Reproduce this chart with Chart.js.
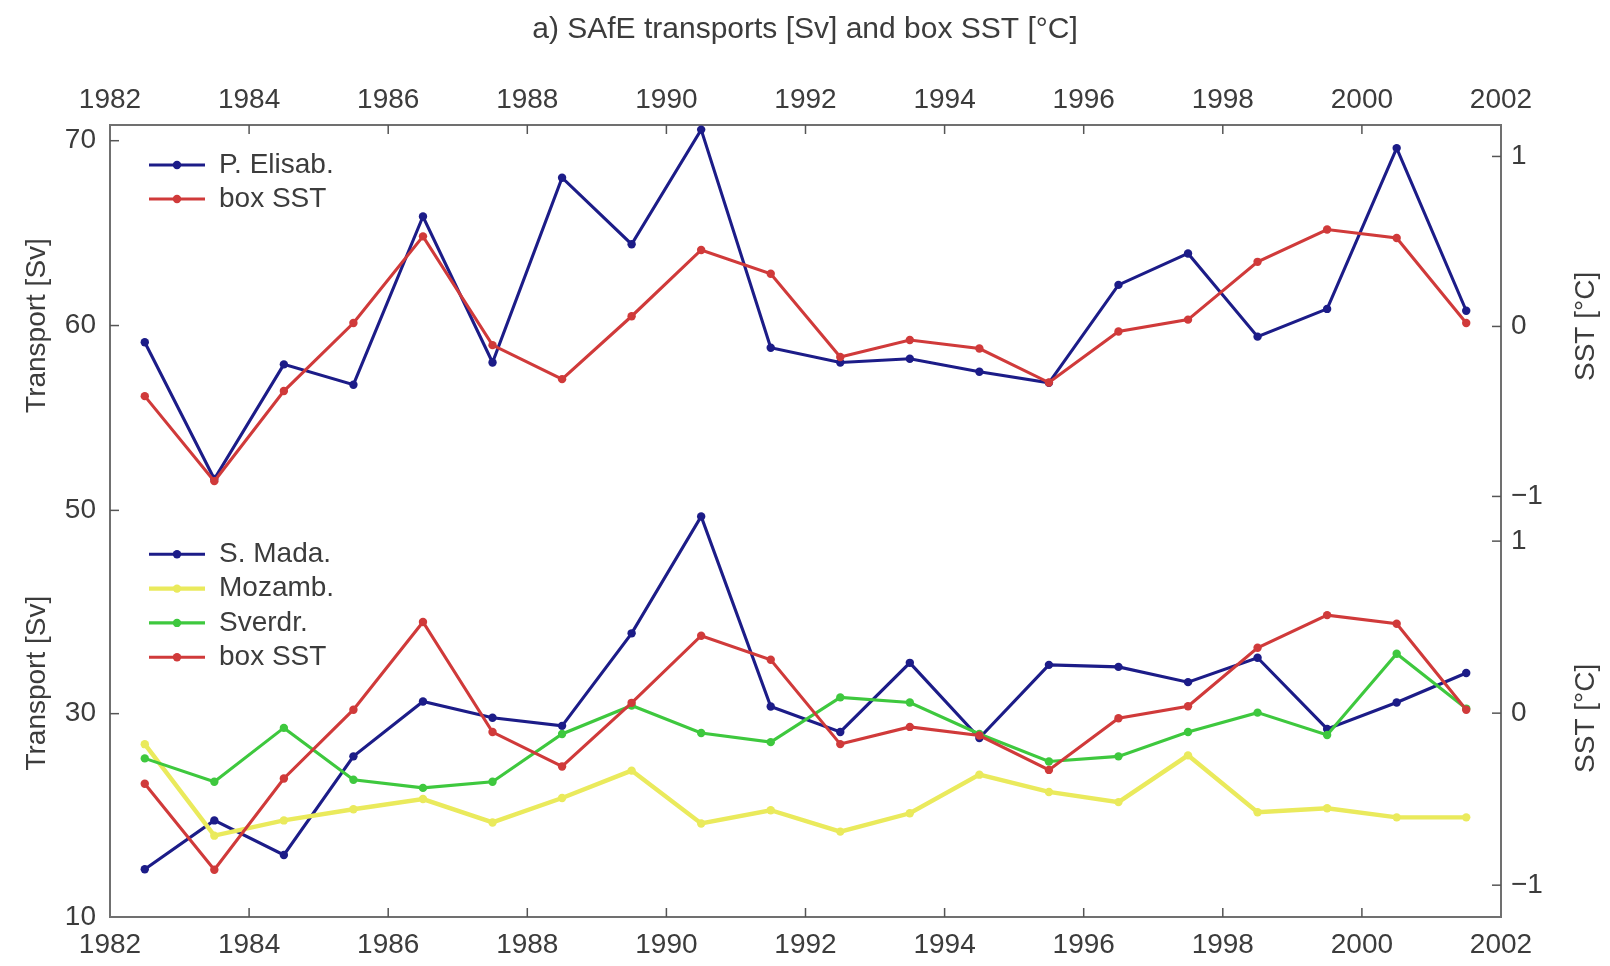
<!DOCTYPE html>
<html>
<head>
<meta charset="utf-8">
<title>SAfE transports and box SST</title>
<script src="https://cdn.jsdelivr.net/npm/chart.js@4.4.1/dist/chart.umd.min.js"></script>
<style>
  html, body { margin: 0; padding: 0; background: #fff; }
  #wrap { width: 1610px; height: 966px; }
</style>
</head>
<body>
<div id="wrap"><canvas id="sstChart"></canvas></div>
<script>
// yearly values, plotted at mid-year
const years = [1982.5, 1983.5, 1984.5, 1985.5, 1986.5, 1987.5, 1988.5, 1989.5, 1990.5, 1991.5,
               1992.5, 1993.5, 1994.5, 1995.5, 1996.5, 1997.5, 1998.5, 1999.5, 2000.5, 2001.5];

// upper panel
const pElisab = [59.1, 51.7, 57.9, 56.8, 65.9, 58.0, 68.0, 64.4, 70.6, 58.8,
                 58.0, 58.2, 57.5, 56.9, 62.2, 63.9, 59.4, 60.9, 69.6, 60.8];
// box SST anomaly, shown in both panels
const boxSst = [-0.41, -0.91, -0.38, 0.02, 0.53, -0.11, -0.31, 0.06, 0.45, 0.31,
                -0.18, -0.08, -0.13, -0.33, -0.03, 0.04, 0.38, 0.57, 0.52, 0.02];

// lower panel
const sMada = [14.7, 19.5, 16.1, 25.8, 31.2, 29.6, 28.8, 37.9, 49.4, 30.7,
               28.2, 35.0, 27.6, 34.8, 34.6, 33.1, 35.5, 28.5, 31.1, 34.0];
const mozamb = [27.0, 18.0, 19.5, 20.6, 21.6, 19.3, 21.7, 24.4, 19.2, 20.5,
                18.4, 20.2, 24.0, 22.3, 21.3, 25.9, 20.3, 20.7, 19.8, 19.8];
const sverdr = [25.6, 23.3, 28.6, 23.5, 22.7, 23.3, 28.0, 30.8, 28.1, 27.2,
                31.6, 31.1, 28.0, 25.3, 25.8, 28.2, 30.1, 27.9, 35.9, 30.5];

// tick labels
const yearTicks = [1982, 1984, 1986, 1988, 1990, 1992, 1994, 1996, 1998, 2000, 2002];
const upperTransportTicks = [50, 60, 70];
const lowerTransportTicks = [10, 30];
const sstTicks = [-1, 0, 1];

const FONT = "'Liberation Sans', Arial, Helvetica, sans-serif";
const TEXT = '#3c3c3c';
const AXIS = '#707070';
const BLUE = '#1c1c88';
const RED = '#d03a3a';
const GREEN = '#3ec83e';
const YELLOW = '#eaea5c';
const LINE_W = 3.1;
const DOT_R = 4.2;

function fixedTicks(values) {
    return function (scale) {
        scale.ticks = values.map(v => ({ value: v }));
    };
}

function minusLabel(v) {
    return v < 0 ? '\u2212' + Math.abs(v) : String(v);
}

function series(label, values, color, yAxisID) {
    return {
        label: label,
        data: years.map((yr, i) => ({ x: yr, y: values[i] })),
        borderColor: color,
        backgroundColor: color,
        borderWidth: LINE_W,
        pointRadius: DOT_R,
        pointHoverRadius: DOT_R,
        pointBorderWidth: 0,
        tension: 0,
        xAxisID: 'x',
        yAxisID: yAxisID
    };
}

// the lower-panel axes take no room of their own; their labels are drawn by panelText
function yScale(position, weight, min, max, ticks, width, visible, callback) {
    const cfg = {
        type: 'linear',
        position: position,
        weight: weight,
        min: min,
        max: max,
        afterBuildTicks: fixedTicks(ticks),
        afterFit: s => { s.width = width; },
        grid: { display: true, drawOnChartArea: false, drawTicks: false },
        border: { display: visible, color: AXIS, width: 2 },
        ticks: {
            display: visible,
            font: { family: FONT, size: 28 },
            color: TEXT,
            padding: position === 'left' ? 14 : 10,
            autoSkip: false
        }
    };
    if (callback) cfg.ticks.callback = callback;
    return cfg;
}

function xScale(position, height, padding) {
    return {
        type: 'linear',
        position: position,
        min: 1982,
        max: 2002,
        afterBuildTicks: fixedTicks(yearTicks),
        afterFit: s => { s.height = height; },
        grid: { display: true, drawOnChartArea: false, drawTicks: false },
        border: { display: true, color: AXIS, width: 2 },
        ticks: {
            font: { family: FONT, size: 28 },
            color: TEXT,
            padding: padding,
            autoSkip: false,
            maxRotation: 0,
            callback: v => String(v)
        }
    };
}

// MATLAB style tick marks pointing into the box
const inwardTicks = {
    id: 'inwardTicks',
    afterDraw(chart) {
        const { ctx, chartArea: a, scales } = chart;
        const len = 9;
        ctx.save();
        ctx.strokeStyle = '#555';
        ctx.lineWidth = 1.5;
        ['x', 'x2'].forEach(id => {
            const s = scales[id];
            s.ticks.forEach(t => {
                if (t.value <= s.min || t.value >= s.max) return;
                const px = s.getPixelForValue(t.value);
                ctx.beginPath();
                if (id === 'x') { ctx.moveTo(px, a.bottom); ctx.lineTo(px, a.bottom - len); }
                else { ctx.moveTo(px, a.top); ctx.lineTo(px, a.top + len); }
                ctx.stroke();
            });
        });
        ['yUL', 'yLL', 'yUR', 'yLR'].forEach(id => {
            const s = scales[id];
            const left = s.position === 'left';
            s.ticks.forEach(t => {
                const py = s.getPixelForValue(t.value);
                if (py <= a.top || py >= a.bottom) return;
                ctx.beginPath();
                if (left) { ctx.moveTo(a.left, py); ctx.lineTo(a.left + len, py); }
                else { ctx.moveTo(a.right, py); ctx.lineTo(a.right - len, py); }
                ctx.stroke();
            });
        });
        ctx.restore();
    }
};

function drawVertical(ctx, text, x, y) {
    ctx.save();
    ctx.translate(x, y);
    ctx.rotate(-Math.PI / 2);
    ctx.fillText(text, 0, 0);
    ctx.restore();
}

function drawLegend(ctx, items, x, y, step) {
    items.forEach((it, i) => {
        const yy = y + i * step;
        ctx.strokeStyle = it.color;
        ctx.fillStyle = it.color;
        ctx.lineWidth = it.width || LINE_W;
        ctx.beginPath();
        ctx.moveTo(x, yy);
        ctx.lineTo(x + 56, yy);
        ctx.stroke();
        ctx.beginPath();
        ctx.arc(x + 28, yy, DOT_R, 0, Math.PI * 2);
        ctx.fill();
        ctx.fillStyle = TEXT;
        ctx.fillText(it.label, x + 70, yy);
    });
}

// axis titles, lower-panel tick labels and the two panel legends
const panelText = {
    id: 'panelText',
    afterDraw(chart) {
        const { ctx, chartArea: a, scales } = chart;
        ctx.save();
        ctx.font = '28px ' + FONT;
        ctx.fillStyle = TEXT;
        ctx.textBaseline = 'middle';

        ctx.textAlign = 'right';
        scales.yLL.ticks.forEach(t => {
            ctx.fillText(String(t.value), a.left - 14, scales.yLL.getPixelForValue(t.value));
        });
        ctx.textAlign = 'left';
        scales.yLR.ticks.forEach(t => {
            ctx.fillText(minusLabel(t.value), a.right + 10, scales.yLR.getPixelForValue(t.value));
        });

        ctx.textAlign = 'center';
        drawVertical(ctx, 'Transport [Sv]', 37, scales.yUL.getPixelForValue(60));
        drawVertical(ctx, 'Transport [Sv]', 37, scales.yLL.getPixelForValue(33));
        drawVertical(ctx, 'SST [\u00B0C]', 1586, scales.yUR.getPixelForValue(0));
        drawVertical(ctx, 'SST [\u00B0C]', 1586, scales.yLR.getPixelForValue(-0.03));

        ctx.textAlign = 'left';
        drawLegend(ctx, [
            { label: 'P. Elisab.', color: BLUE },
            { label: 'box SST', color: RED }
        ], a.left + 39, a.top + 40, 34);
        drawLegend(ctx, [
            { label: 'S. Mada.', color: BLUE },
            { label: 'Mozamb.', color: YELLOW, width: 4.4 },
            { label: 'Sverdr.', color: GREEN },
            { label: 'box SST', color: RED }
        ], a.left + 39, scales.yLL.getPixelForValue(50) + 44, 34.3);
        ctx.restore();
    }
};

const mozambSet = series('Mozamb.', mozamb, YELLOW, 'yLL');
mozambSet.borderWidth = 4.4;

new Chart(document.getElementById('sstChart'), {
    type: 'line',
    data: {
        datasets: [
            series('box SST', boxSst, RED, 'yLR'),
            series('Sverdr.', sverdr, GREEN, 'yLL'),
            mozambSet,
            series('S. Mada.', sMada, BLUE, 'yLL'),
            series('box SST', boxSst, RED, 'yUR'),
            series('P. Elisab.', pElisab, BLUE, 'yUL')
        ]
    },
    options: {
        responsive: true,
        maintainAspectRatio: false,
        animation: false,
        layout: { padding: 0 },
        plugins: {
            legend: { display: false },
            tooltip: { enabled: false },
            title: {
                display: true,
                text: 'a) SAfE transports [Sv] and box SST [\u00B0C]',
                color: TEXT,
                font: { family: FONT, size: 30, weight: 'normal' },
                padding: { top: 12, bottom: 0 }
            }
        },
        scales: {
            x: xScale('bottom', 49, 11),
            x2: xScale('top', 77, 8),
            yUL: yScale('left', 1, 28, 70.85, upperTransportTicks, 110, true),
            yLL: yScale('left', 0, 10, 87.9, lowerTransportTicks, 0, false),
            yLR: yScale('right', 0, -1.185, 3.419, sstTicks, 0, false, minusLabel),
            yUR: yScale('right', 1, -3.474, 1.185, sstTicks, 109, true, minusLabel)
        }
    },
    plugins: [inwardTicks, panelText]
});
</script>
</body>
</html>
